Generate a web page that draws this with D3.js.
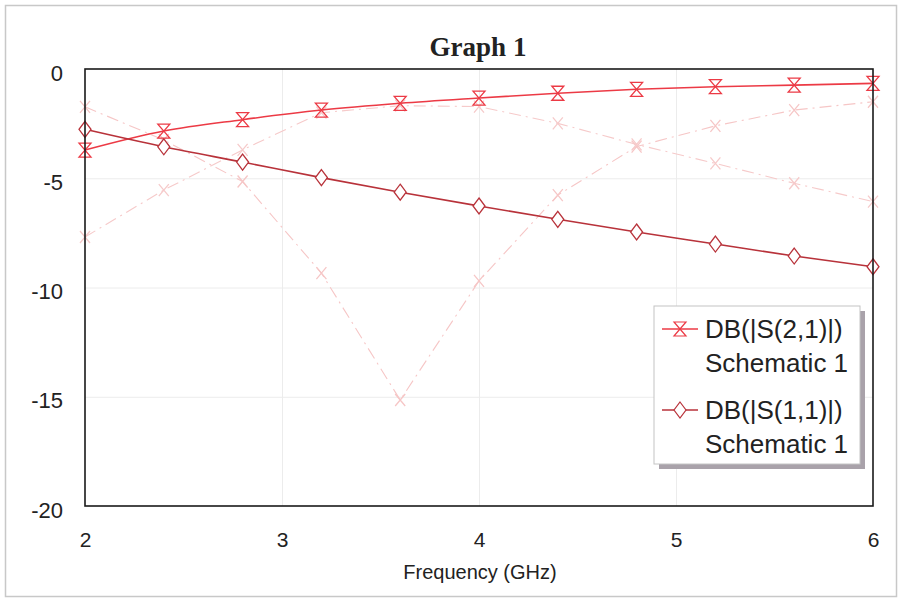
<!DOCTYPE html>
<html lang="en">
<head>
<meta charset="UTF-8">
<title>Graph 1</title>
<script src="https://cdnjs.cloudflare.com/ajax/libs/d3/7.8.5/d3.min.js"></script>
<style>
  body { margin: 0; background: #fff; }
  text { font-family: "Liberation Sans", Arial, sans-serif; }
</style>
</head>
<body>
<div id="wrapper"></div>
<script>
// data
const freqs = [2, 2.4, 2.8, 3.2, 3.6, 4.0, 4.4, 4.8, 5.2, 5.6, 6.0]
const s21 = [-3.71, -2.84, -2.32, -1.88, -1.57, -1.33, -1.11, -0.93, -0.81, -0.74, -0.66]
const s11 = [-2.76, -3.56, -4.26, -4.97, -5.64, -6.27, -6.88, -7.46, -8.01, -8.56, -9.05]
// faint traces behind (second data set)
const s21b = [-1.73, -3.25, -5.15, -9.34, -15.15, -9.7, -5.77, -3.55, -2.6, -1.88, -1.5]
const s11b = [-7.69, -5.54, -3.7, -2.0, -1.68, -1.72, -2.49, -3.45, -4.32, -5.23, -6.07]
const xTicks = [2, 3, 4, 5, 6]
const yTicks = [0, -5, -10, -15, -20]
const legendLabels = [["DB(|S(2,1)|)", "Schematic 1"], ["DB(|S(1,1)|)", "Schematic 1"]]

const dimensions = {
  width: 902,
  height: 605,
  margin: { top: 69, right: 29, bottom: 99, left: 85 }
}
dimensions.boundedWidth = dimensions.width - dimensions.margin.left - dimensions.margin.right
dimensions.boundedHeight = dimensions.height - dimensions.margin.top - dimensions.margin.bottom

const svg = d3.select('#wrapper')
  .append('svg')
    .attr('width', dimensions.width)
    .attr('height', dimensions.height)

// outer frame
svg.append('rect')
  .attr('x', 5.5).attr('y', 5.5)
  .attr('width', 891).attr('height', 591)
  .attr('fill', 'none')
  .attr('stroke', '#c8c8c8')
  .attr('stroke-width', 1.5)

svg.append('text')
  .attr('x', 478)
  .attr('y', 56)
  .attr('text-anchor', 'middle')
  .style('font-family', '"Liberation Serif", "Times New Roman", serif')
  .style('font-weight', 'bold')
  .style('font-size', '27px')
  .attr('fill', '#222')
  .text('Graph 1')

const bounds = svg.append('g')
  .attr('transform', `translate(${dimensions.margin.left}, ${dimensions.margin.top})`)

const xScale = d3.scaleLinear()
  .domain([2, 6])
  .range([0, dimensions.boundedWidth])

const yScale = d3.scaleLinear()
  .domain([-20, 0])
  .range([dimensions.boundedHeight, 0])

// grid
bounds.append('g')
  .call(d3.axisBottom(xScale).tickValues(xTicks.slice(1, -1)).tickSize(dimensions.boundedHeight).tickFormat(''))
  .call(g => g.select('.domain').remove())
  .call(g => g.selectAll('line').attr('stroke', '#ececec'))

bounds.append('g')
  .call(d3.axisLeft(yScale).tickValues(yTicks.slice(1, -1)).tickSize(-dimensions.boundedWidth).tickFormat(''))
  .call(g => g.select('.domain').remove())
  .call(g => g.selectAll('line').attr('stroke', '#ececec'))

// axes labels
const xAxis = bounds.append('g')
  .attr('transform', `translate(0, ${dimensions.boundedHeight})`)
  .call(d3.axisBottom(xScale).tickValues(xTicks).tickSize(0).tickPadding(26).tickFormat(d => d))
xAxis.select('.domain').remove()
xAxis.selectAll('text').style('font-size', '21px').attr('fill', '#222')

const yAxis = bounds.append('g')
  .call(d3.axisLeft(yScale).tickValues(yTicks).tickSize(0).tickPadding(22).tickFormat(d => d))
yAxis.select('.domain').remove()
yAxis.selectAll('text').style('font-size', '22px').attr('fill', '#222').attr('dy', '0.5em')

svg.append('text')
  .attr('x', 480)
  .attr('y', 579)
  .attr('text-anchor', 'middle')
  .style('font-size', '20px')
  .attr('fill', '#222')
  .text('Frequency (GHz)')

const lineGenerator = d3.line()
  .x((d, i) => xScale(freqs[i]))
  .y(d => yScale(d))

// marker shapes
const hourglass = (g, x, y, color, w) => {
  g.append('path')
    .attr('d', `M${x - 6},${y - 7}H${x + 6}L${x - 6},${y + 7}H${x + 6}Z`)
    .attr('fill', 'none')
    .attr('stroke', color)
    .attr('stroke-width', w)
}
const diamond = (g, x, y, color, w) => {
  g.append('path')
    .attr('d', `M${x},${y - 8}L${x + 6},${y}L${x},${y + 8}L${x - 6},${y}Z`)
    .attr('fill', '#fff')
    .attr('stroke', color)
    .attr('stroke-width', w)
}
const cross = (g, x, y, color, w) => {
  g.append('path')
    .attr('d', `M${x - 5},${y - 6}L${x + 5},${y + 6}M${x + 5},${y - 6}L${x - 5},${y + 6}`)
    .attr('fill', 'none')
    .attr('stroke', color)
    .attr('stroke-width', w)
}

const series = [
  { values: s21b, color: '#f6c6c6', dash: '12,5,2,5', width: 1.1, marker: cross, curve: d3.curveLinear },
  { values: s11b, color: '#f6caca', dash: '12,5,2,5', width: 1.1, marker: cross, curve: d3.curveLinear },
  { values: s21, color: '#ec3a45', dash: null, width: 1.6, marker: hourglass, curve: d3.curveMonotoneX },
  { values: s11, color: '#b8323a', dash: null, width: 1.6, marker: diamond, curve: d3.curveMonotoneX },
]

const plot = bounds.append('g')
series.forEach(s => {
  plot.append('path')
    .attr('d', lineGenerator.curve(s.curve)(s.values))
    .attr('fill', 'none')
    .attr('stroke', s.color)
    .attr('stroke-width', s.width)
    .attr('stroke-dasharray', s.dash)
  const mg = plot.append('g')
  s.values.forEach((v, i) => s.marker(mg, xScale(freqs[i]), yScale(v), s.color, 1.3))
})

// plot frame
bounds.append('rect')
  .attr('width', dimensions.boundedWidth)
  .attr('height', dimensions.boundedHeight)
  .attr('fill', 'none')
  .attr('stroke', '#1a1a1a')
  .attr('stroke-width', 1.6)

// legend
const legend = svg.append('g').attr('transform', 'translate(654, 306)')
legend.append('rect')
  .attr('x', 5).attr('y', 5)
  .attr('width', 206).attr('height', 158)
  .attr('fill', '#a9a2aa')
legend.append('rect')
  .attr('width', 206).attr('height', 158)
  .attr('fill', '#fff')
  .attr('stroke', '#c4c4c4')
  .attr('stroke-width', 1)

const legendMarkers = [hourglass, diamond]
const legendColors = ['#ec3a45', '#b8323a']
legendLabels.forEach((lab, i) => {
  const yy = 23 + i * 81
  legend.append('line')
    .attr('x1', 8).attr('x2', 44)
    .attr('y1', yy).attr('y2', yy)
    .attr('stroke', legendColors[i])
    .attr('stroke-width', 1.4)
  legendMarkers[i](legend, 26, yy, legendColors[i], 1.2)
  legend.append('text')
    .attr('x', 51).attr('y', yy + 9)
    .style('font-size', '26px')
    .attr('fill', '#222')
    .text(lab[0])
  legend.append('text')
    .attr('x', 51).attr('y', yy + 43)
    .style('font-size', '26px')
    .attr('fill', '#222')
    .text(lab[1])
})
</script>
</body>
</html>
